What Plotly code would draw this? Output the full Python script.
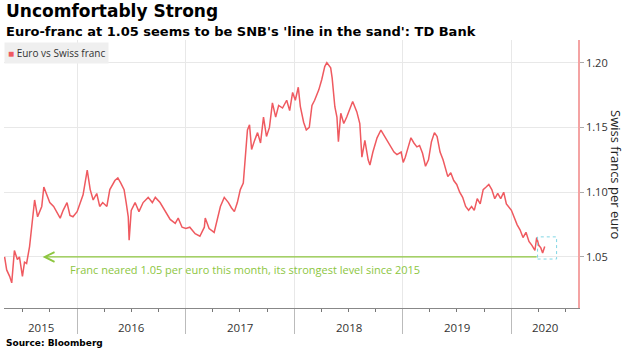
import plotly.graph_objects as go
import pandas as pd

# ---- data ----
dates = [
    "2015-05-02", "2015-05-09", "2015-05-19", "2015-05-26", "2015-06-04", "2015-06-14",
    "2015-06-21", "2015-07-01", "2015-07-08", "2015-07-15", "2015-07-25", "2015-08-04",
    "2015-08-11", "2015-08-21", "2015-09-04", "2015-09-11", "2015-09-21", "2015-10-01",
    "2015-10-14", "2015-11-05", "2015-11-15", "2015-11-28", "2015-12-08", "2015-12-18",
    "2016-01-01", "2016-01-11", "2016-01-21", "2016-02-04", "2016-02-14", "2016-02-24",
    "2016-03-07", "2016-03-17", "2016-03-27", "2016-04-10", "2016-04-20", "2016-05-07",
    "2016-05-17", "2016-05-27", "2016-06-07", "2016-06-14", "2016-06-21", "2016-06-24",
    "2016-07-01", "2016-07-14", "2016-07-27", "2016-08-10", "2016-08-27", "2016-09-10",
    "2016-09-20", "2016-10-06", "2016-10-23", "2016-11-09", "2016-11-26", "2016-12-06",
    "2016-12-19", "2017-01-01", "2017-01-14", "2017-02-01", "2017-02-17", "2017-03-04",
    "2017-03-07", "2017-03-20", "2017-04-06", "2017-04-17", "2017-04-27", "2017-05-10",
    "2017-05-24", "2017-06-03", "2017-06-13", "2017-06-23", "2017-07-03", "2017-07-13",
    "2017-07-20", "2017-07-27", "2017-08-03", "2017-08-10", "2017-08-20", "2017-08-30",
    "2017-09-09", "2017-09-19", "2017-09-29", "2017-10-09", "2017-10-19", "2017-10-30",
    "2017-11-09", "2017-11-22", "2017-12-06", "2017-12-16", "2017-12-26", "2018-01-04",
    "2018-01-14", "2018-01-21", "2018-02-01", "2018-02-10", "2018-02-20", "2018-03-01",
    "2018-03-10", "2018-03-24", "2018-04-03", "2018-04-13", "2018-04-20", "2018-05-03",
    "2018-05-08", "2018-05-17", "2018-05-24", "2018-05-29", "2018-06-06", "2018-06-16",
    "2018-06-26", "2018-07-09", "2018-07-16", "2018-07-30", "2018-08-09", "2018-08-16",
    "2018-08-26", "2018-09-06", "2018-09-12", "2018-09-22", "2018-10-06", "2018-10-19",
    "2018-10-30", "2018-11-09", "2018-11-22", "2018-12-02", "2018-12-12", "2018-12-26",
    "2019-01-02", "2019-01-09", "2019-01-19", "2019-01-28", "2019-02-07", "2019-02-17",
    "2019-02-26", "2019-03-08", "2019-03-18", "2019-03-28", "2019-04-07", "2019-04-17",
    "2019-04-26", "2019-05-06", "2019-05-16", "2019-05-26", "2019-06-01", "2019-06-11",
    "2019-06-21", "2019-07-01", "2019-07-11", "2019-07-21", "2019-07-31", "2019-08-10",
    "2019-08-20", "2019-08-29", "2019-09-08", "2019-09-18", "2019-09-28", "2019-10-08",
    "2019-10-17", "2019-10-27", "2019-11-06", "2019-11-16", "2019-11-26", "2019-12-06",
    "2019-12-15", "2020-01-01", "2020-01-10", "2020-01-20", "2020-01-30", "2020-02-09",
    "2020-02-19", "2020-02-29", "2020-03-10", "2020-03-20", "2020-03-26", "2020-04-02",
    "2020-04-09", "2020-04-15", "2020-04-22",
]
values = [
    1.050, 1.040, 1.035, 1.030, 1.055, 1.048,
    1.050, 1.035, 1.046, 1.045, 1.058, 1.079,
    1.094, 1.081, 1.089, 1.104, 1.098, 1.092,
    1.089, 1.080, 1.086, 1.092, 1.082, 1.081,
    1.085, 1.092, 1.098, 1.117, 1.102, 1.094,
    1.099, 1.089, 1.092, 1.089, 1.102, 1.109,
    1.111, 1.107, 1.102, 1.092, 1.081, 1.063,
    1.086, 1.092, 1.085, 1.092, 1.096, 1.092,
    1.096, 1.092, 1.085, 1.079, 1.076, 1.080,
    1.073, 1.072, 1.073, 1.068, 1.066, 1.073,
    1.080, 1.072, 1.069, 1.079, 1.089, 1.096,
    1.092, 1.088, 1.085, 1.092, 1.102, 1.107,
    1.125, 1.148, 1.152, 1.133, 1.140, 1.146,
    1.138, 1.158, 1.143, 1.150, 1.169, 1.158,
    1.167, 1.165, 1.171, 1.163, 1.177, 1.171,
    1.181, 1.166, 1.154, 1.148, 1.150, 1.167,
    1.171, 1.179, 1.187, 1.197, 1.200, 1.196,
    1.188, 1.166, 1.158, 1.139, 1.161, 1.153,
    1.158, 1.165, 1.170, 1.162, 1.153, 1.127,
    1.140, 1.125, 1.121, 1.131, 1.142, 1.148,
    1.144, 1.140, 1.135, 1.131, 1.129, 1.131,
    1.123, 1.127, 1.135, 1.142, 1.138, 1.135,
    1.136, 1.130, 1.120, 1.125, 1.139, 1.146,
    1.143, 1.131, 1.125, 1.117, 1.112, 1.115,
    1.109, 1.106, 1.100, 1.096, 1.089, 1.086,
    1.089, 1.086, 1.095, 1.091, 1.102, 1.104,
    1.106, 1.102, 1.095, 1.099, 1.095, 1.100,
    1.091, 1.086, 1.081, 1.075, 1.071, 1.065,
    1.069, 1.062, 1.059, 1.055, 1.065, 1.059,
    1.057, 1.053, 1.058,
]

series_name = "Euro vs Swiss franc"
years = ["2015", "2016", "2017", "2018", "2019", "2020"]
y_ticks = [1.05, 1.10, 1.15, 1.20]
x_range = ["2015-04-30", "2020-08-12"]
y_range = [1.0106, 1.2175]

line_level = 1.05
arrow_from = "2020-03-31"
arrow_to = "2015-09-07"
note_x = "2015-11-30"
note_y = 1.040
note_text = "Franc neared 1.05 per euro this month, its strongest level since 2015"
box_x = ["2020-03-29", "2020-06-01"]
box_y = [1.0484, 1.0655]

RED = "#ef5a60"
GREEN = "#8dc63f"
FONT = "Open Sans"
HEAD_FONT = "DejaVu Sans"

fig = go.Figure()
fig.add_trace(go.Scatter(
    x=pd.to_datetime(dates), y=values, mode="lines",
    line=dict(color=RED, width=1.5), name=series_name, showlegend=False,
))

# year labels centred in each visible year span
r0, r1 = pd.Timestamp(x_range[0]), pd.Timestamp(x_range[1])
for yr in years:
    s = max(pd.Timestamp(f"{yr}-01-01"), r0)
    e = min(pd.Timestamp(f"{int(yr)+1}-01-01"), r1)
    mid = s + (e - s) / 2
    fig.add_annotation(x=mid, y=0, xref="x", yref="paper", text=yr,
                       showarrow=False, yanchor="middle", yshift=-19,
                       font=dict(family=FONT, size=11.5, color="#333333"))

# arrow + note
fig.add_annotation(x=arrow_to, y=line_level, ax=arrow_from, ay=line_level,
                   xref="x", yref="y", axref="x", ayref="y", text="",
                   showarrow=True, arrowhead=5, arrowsize=1.6, arrowwidth=1.2,
                   arrowcolor=GREEN)
fig.add_annotation(x=note_x, y=note_y, xref="x", yref="y", text=note_text,
                   showarrow=False, xanchor="left", yanchor="middle",
                   font=dict(family=FONT, size=11, color=GREEN))
fig.add_shape(type="rect", xref="x", yref="y", x0=box_x[0], x1=box_x[1],
              y0=box_y[0], y1=box_y[1],
              line=dict(color="#7fd6e4", width=1, dash="dot"))

# legend (as text)
fig.add_annotation(x=0, y=1, xref="paper", yref="paper", xanchor="left", yanchor="top",
                   yshift=-2,
                   text=f"<span style='color:{RED}'>■</span> {series_name}",
                   showarrow=False, bgcolor="#efefef", borderpad=3,
                   font=dict(family=FONT, size=10, color="#333333"))

# titles
fig.add_annotation(x=0, y=1, xref="paper", yref="paper", xanchor="left", yanchor="middle",
                   yshift=29, text="<b>Uncomfortably Strong</b>", showarrow=False,
                   font=dict(family=HEAD_FONT, size=17, color="#000000"))
fig.add_annotation(x=0, y=1, xref="paper", yref="paper", xanchor="left", yanchor="middle",
                   yshift=9, text="<b>Euro-franc at 1.05 seems to be SNB's 'line in the sand': TD Bank</b>",
                   showarrow=False, font=dict(family=HEAD_FONT, size=13, color="#000000"))
fig.add_annotation(x=0, y=0, xref="paper", yref="paper", xanchor="left", yanchor="middle",
                   yshift=-35, text="<b>Source: Bloomberg</b>", showarrow=False,
                   font=dict(family=HEAD_FONT, size=9, color="#000000"))
# y axis title (reads top to bottom)
fig.add_annotation(x=1, y=0.5, xref="paper", yref="paper", xanchor="center", yanchor="middle",
                   xshift=38, text="Swiss francs per euro", textangle=90, showarrow=False,
                   font=dict(family=FONT, size=13, color="#222222"))

fig.update_layout(
    width=629, height=352, autosize=False,
    margin=dict(l=4, r=51, t=40, b=44),
    paper_bgcolor="white", plot_bgcolor="white",
    xaxis=dict(type="date", range=x_range, showgrid=True, gridcolor="#e8e8e8",
               tick0="2015-01-01", dtick="M12", ticks="outside", ticklen=25,
               tickcolor="#bbbbbb", showticklabels=False, showline=True,
               linecolor="#888888", linewidth=1, zeroline=False,
               minor=dict(dtick="M3", tick0="2015-01-01", ticks="outside", ticklen=3,
                          tickcolor="#777777", showgrid=False)),
    yaxis=dict(side="right", range=y_range, tickvals=y_ticks, tickformat=".2f",
               ticks="outside", ticklen=4, tickcolor="#aaaaaa", showgrid=True,
               gridcolor="#e8e8e8", showline=True, linecolor="#f4a3a3", linewidth=1.5,
               zeroline=False, tickfont=dict(family=FONT, size=11, color="#333333")),
    showlegend=False,
)

fig.write_html("out.html")
